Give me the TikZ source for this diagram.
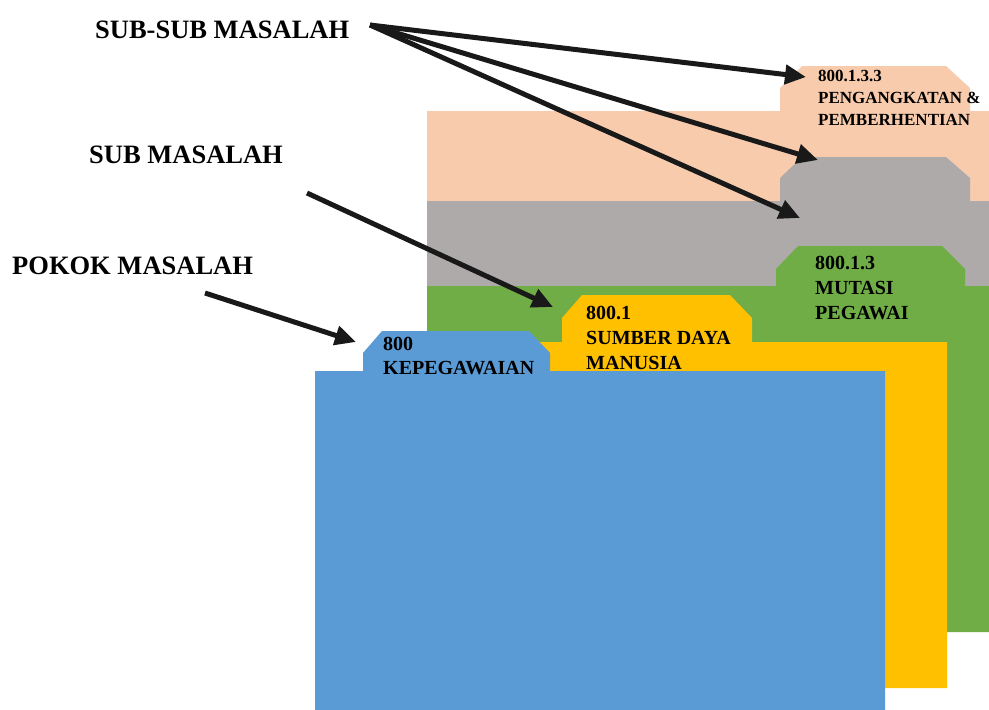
\documentclass[tikz,border=0pt]{standalone}
\usepackage{fontspec}
\setmainfont{Liberation Serif}
\usetikzlibrary{arrows.meta}

\definecolor{peach}{HTML}{F8CBAD}
\definecolor{folder gray}{HTML}{AEAAAA}
\definecolor{folder green}{HTML}{70AD47}
\definecolor{folder yellow}{HTML}{FFC000}
\definecolor{folder blue}{HTML}{5B9BD5}

\begin{document}
\begin{tikzpicture}[
  x=1pt, y=-1pt,
  level/.style={font=\fontsize{26.5}{32}\selectfont\bfseries, inner sep=0pt, anchor=west},
  tabtext/.style={font=\fontsize{20}{25}\selectfont\bfseries, align=left, inner sep=0pt, anchor=north west},
  pointer/.style={-{Triangle[length=21pt, width=19pt]}, line width=5pt, draw=black!90}
]
\useasboundingbox (0,0) rectangle (989,710);

\fill[peach] (427,111) -- (780,111) -- (780,88) -- (802,66) -- (946,66) -- (970,88) -- (970,111)
  -- (989,111) -- (989,300) -- (427,300) -- cycle;
\fill[folder gray] (427,201) -- (780,201) -- (780,178) -- (802,157) -- (946,157) -- (970,178) -- (970,201)
  -- (989,201) -- (989,300) -- (427,300) -- cycle;
\fill[folder green] (427,286) -- (776,286) -- (776,269) -- (798,246) -- (942,246) -- (965,269) -- (965,286)
  -- (989,286) -- (989,632) -- (427,632) -- cycle;
\fill[folder yellow] (380,342) -- (562,342) -- (562,318) -- (582,295) -- (730,295) -- (752,318) -- (752,342)
  -- (947,342) -- (947,688) -- (380,688) -- cycle;
\fill[folder blue] (315,371) -- (363,371) -- (363,353) -- (382,331) -- (529,331) -- (550,353) -- (550,371)
  -- (885,371) -- (885,710) -- (315,710) -- cycle;

\node[tabtext, font=\fontsize{17}{22}\selectfont\bfseries] (pengangkatan) at (818,70) {800.1.3.3\\PENGANGKATAN \&\\PEMBERHENTIAN};
\node[tabtext] (mutasi) at (815,256) {800.1.3\\MUTASI\\PEGAWAI};
\node[tabtext] (sdm) at (586,306) {800.1\\SUMBER DAYA\\MANUSIA};
\node[tabtext, font=\fontsize{20}{24}\selectfont\bfseries] (kepeg) at (383,337) {800\\KEPEGAWAIAN};

\node[level] (subsub) at (95,30) {SUB-SUB MASALAH};
\node[level] (sub) at (89,155) {SUB MASALAH};
\node[level] (pokok) at (12,266) {POKOK MASALAH};

\coordinate (subsubfrom) at (370,25);
\coordinate (subfrom) at (307,193);
\coordinate (pokokfrom) at (205,293);
\coordinate (peachtab) at (806,77);
\coordinate (graytab) at (818,160);
\coordinate (greentab) at (800,218);
\coordinate (yellowtab) at (553,307);
\coordinate (bluetab) at (356,342);

\draw[pointer] (subsubfrom) -- (peachtab);
\draw[pointer] (subsubfrom) -- (graytab);
\draw[pointer] (subsubfrom) -- (greentab);
\draw[pointer] (subfrom) -- (yellowtab);
\draw[pointer] (pokokfrom) -- (bluetab);

\end{tikzpicture}
\end{document}
